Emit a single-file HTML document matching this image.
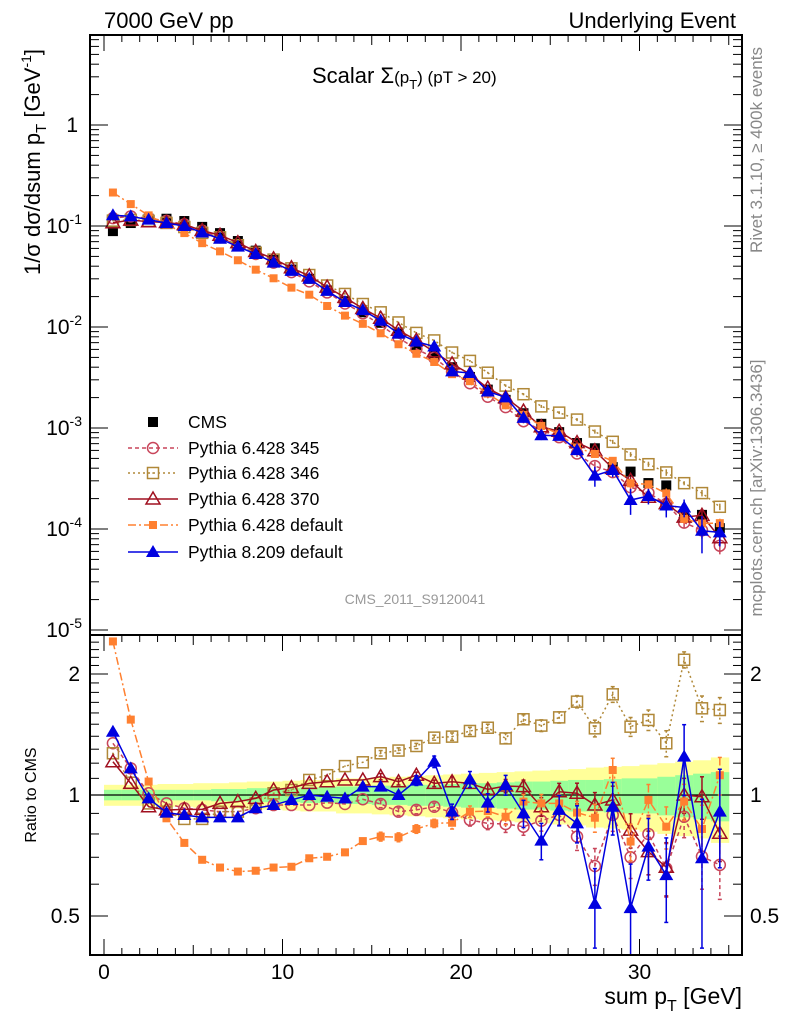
<!DOCTYPE html>
<html><head><meta charset="utf-8">
<style>
body{margin:0;background:#fff;}
svg{display:block;font-family:"Liberation Sans",sans-serif;}
</style></head>
<body>
<svg id="c" width="786" height="1024" xmlns="http://www.w3.org/2000/svg">
<text x="104" y="28" font-size="22">7000 GeV pp</text>
<text x="736" y="28" font-size="22" text-anchor="end">Underlying Event</text>
<text x="312" y="83" font-size="22">Scalar Σ<tspan font-size="17">(p</tspan><tspan font-size="13" dy="6">T</tspan><tspan font-size="17" dy="-6">) (pT &gt; 20)</tspan></text>
<text x="415" y="604" font-size="14" fill="#999" text-anchor="middle">CMS_2011_S9120041</text>
<text transform="translate(40,162) rotate(-90)" font-size="22" text-anchor="middle">1/σ dσ/dsum p<tspan font-size="15" dy="6">T</tspan><tspan dy="-6"> [GeV</tspan><tspan font-size="14" dy="-9">-1</tspan><tspan dy="9">]</tspan></text>
<text transform="translate(36,795) rotate(-90)" font-size="16" text-anchor="middle">Ratio to CMS</text>
<text x="742" y="1004" font-size="23" text-anchor="end">sum p<tspan font-size="16" dy="7">T</tspan><tspan dy="-7"> [GeV]</tspan></text>
<text transform="translate(762,150) rotate(-90)" font-size="17" fill="#888" text-anchor="middle">Rivet 3.1.10, ≥ 400k events</text>
<text transform="translate(762,488) rotate(-90)" font-size="17" fill="#888" text-anchor="middle">mcplots.cern.ch [arXiv:1306.3436]</text>
<g id="band"></g><g id="marks"></g><g id="axes"></g><g id="legend"></g>
</svg>
<script>
const xCenters=[0.5,1.5,2.5,3.5,4.5,5.5,6.5,7.5,8.5,9.5,10.5,11.5,12.5,13.5,14.5,15.5,16.5,17.5,18.5,19.5,20.5,21.5,22.5,23.5,24.5,25.5,26.5,27.5,28.5,29.5,30.5,31.5,32.5,33.5,34.5];
const cmsValues=[0.089,0.107,0.118,0.118,0.112,0.098,0.085,0.071,0.057,0.046,0.037,0.030,0.023,0.018,0.014,0.011,0.0086,0.0066,0.0053,0.0040,0.0032,0.0024,0.0019,0.0014,0.0011,0.00091,0.00071,0.00063,0.00041,0.00037,0.000285,0.00027,0.000131,0.000138,0.000102];
const ratio345=[1.345,1.165,1.01,0.953,0.927,0.918,0.909,0.909,0.927,0.944,0.944,0.944,0.957,0.95,0.976,0.95,0.909,0.918,0.935,0.904,0.867,0.85,0.847,0.834,0.863,0.892,0.788,0.666,0.892,0.70,0.80,0.657,0.883,0.703,0.67];
const ratio346=[1.27,1.073,0.953,0.909,0.872,0.872,0.909,0.909,0.953,1.01,1.029,1.09,1.12,1.18,1.206,1.27,1.29,1.324,1.389,1.397,1.443,1.47,1.383,1.543,1.488,1.56,1.707,1.465,1.78,1.479,1.537,1.345,2.17,1.643,1.627];
const ratio370=[1.21,1.069,0.935,0.918,0.921,0.921,0.953,0.963,0.981,1.029,1.043,1.069,1.079,1.09,1.09,1.111,1.079,1.12,1.069,1.079,1.069,1.033,1.053,1.049,0.935,1.019,1.01,0.944,0.972,0.818,0.723,0.661,1.0,0.99,0.803];
const ratioDef6=[2.41,1.54,1.08,0.875,0.76,0.69,0.66,0.645,0.648,0.66,0.663,0.696,0.702,0.72,0.768,0.788,0.785,0.823,0.85,0.853,0.909,0.912,0.883,0.963,0.953,0.953,0.904,0.878,1.154,0.766,0.972,0.834,0.963,0.823,1.12];
const ratioP8=[1.437,1.165,0.981,0.904,0.892,0.88,0.88,0.88,0.927,0.944,0.972,1.0,0.99,0.981,1.049,1.049,1.0,1.086,1.21,0.909,1.094,0.957,1.059,0.9,0.77,0.918,0.85,0.536,0.935,0.523,0.744,0.632,1.246,0.696,0.909];
const errP8=[0.01,0.01,0.01,0.01,0.01,0.01,0.01,0.01,0.01,0.01,0.01,0.01,0.01,0.01,0.02,0.02,0.02,0.03,0.04,0.04,0.05,0.05,0.06,0.07,0.08,0.08,0.09,0.12,0.14,0.15,0.13,0.15,0.25,0.28,0.25];
const errMC=[0.01,0.01,0.01,0.01,0.01,0.01,0.01,0.01,0.01,0.01,0.01,0.01,0.01,0.01,0.01,0.02,0.02,0.02,0.02,0.03,0.03,0.03,0.04,0.04,0.05,0.05,0.06,0.07,0.08,0.08,0.09,0.10,0.10,0.12,0.12];
const bandInner=[0.03,0.03,0.03,0.03,0.03,0.03,0.035,0.035,0.04,0.04,0.04,0.045,0.045,0.05,0.05,0.055,0.055,0.06,0.06,0.065,0.07,0.07,0.075,0.08,0.08,0.085,0.09,0.09,0.095,0.10,0.10,0.11,0.12,0.13,0.14];
const bandOuter=[0.06,0.06,0.06,0.065,0.065,0.07,0.07,0.075,0.08,0.08,0.085,0.09,0.09,0.10,0.10,0.105,0.11,0.115,0.12,0.125,0.13,0.135,0.14,0.145,0.15,0.155,0.16,0.17,0.175,0.18,0.19,0.20,0.21,0.22,0.24];
const xTicks=[0,10,20,30];
const ratioTicks=[2,1,0.5];

const NS="http://www.w3.org/2000/svg";
const L=90,R=742,T=35,MB=635,B=955;
const sx=v=>104+17.85*v;
const sy=v=>125-101*Math.log10(v);
const sr=v=>795-402*Math.log10(v);
function el(tag,a,p){const e=document.createElementNS(NS,tag);for(const k in a)e.setAttribute(k,a[k]);p.appendChild(e);return e;}
const band=document.getElementById('band'),marks=document.getElementById('marks'),axes=document.getElementById('axes'),leg=document.getElementById('legend');

xCenters.forEach((x,i)=>{
  let y1=sr(1+bandOuter[i]),y2=sr(1-bandOuter[i]);
  let r=el('rect',{x:sx(x-0.5),y:y1,width:17.85+0.5,height:y2-y1,fill:'#ffff99'},band);
  
  
  y1=sr(1+bandInner[i]);y2=sr(1-bandInner[i]);
  r=el('rect',{x:sx(x-0.5),y:y1,width:17.85+0.5,height:y2-y1,fill:'#99ff99'},band);
  
  
});
let ln=el('line',{x1:L,x2:R,y1:sr(1),y2:sr(1),stroke:'#000','stroke-width':1.3},band);



function marker(kind,color,cx,cy,p){
  let m;
  if(kind==='sqfill'){m=el('rect',{x:cx-5,y:cy-5,width:10,height:10,fill:color},p);}
  else if(kind==='sqsmall'){m=el('rect',{x:cx-4,y:cy-4,width:8,height:8,fill:color},p);}
  else if(kind==='circ'){m=el('circle',{cx:cx,cy:cy,r:5.5,fill:'none',stroke:color,'stroke-width':1.5},p);}
  else if(kind==='sqopen'){m=el('rect',{x:cx-5.5,y:cy-5.5,width:11,height:11,fill:'none',stroke:color,'stroke-width':1.5},p);el('circle',{cx:cx,cy:cy,r:0.8,fill:color},p);}
  else if(kind==='triopen'){m=el('polygon',{points:`${cx},${cy-7} ${cx-7},${cy+5} ${cx+7},${cy+5}`,fill:'none',stroke:color,'stroke-width':1.5},p);}
  else if(kind==='trifill'){m=el('polygon',{points:`${cx},${cy-7} ${cx-7},${cy+5} ${cx+7},${cy+5}`,fill:color},p);}
  return m;
}
const series=[
 {name:'pythia-6428-345',r:ratio345,c:'#c8455a',dash:'4,3',m:'circ',err:errMC},
 {name:'pythia-6428-346',r:ratio346,c:'#b08838',dash:'2,3',m:'sqopen',err:errMC},
 {name:'pythia-6428-370',r:ratio370,c:'#a01020',dash:'',m:'triopen',err:errMC},
 {name:'pythia-6428-default',r:ratioDef6,c:'#ff8030',dash:'8,3,2,3',m:'sqsmall',err:errMC},
 {name:'pythia-8209-default',r:ratioP8,c:'#0000e0',dash:'',m:'trifill',err:errP8}
];
const defs=el('defs',{},document.getElementById('c'));
const cp=el('clipPath',{id:'mainclip'},defs);el('rect',{x:L,y:T,width:R-L,height:MB-T},cp);
const cp2=el('clipPath',{id:'ratclip'},defs);el('rect',{x:L,y:MB,width:R-L,height:B-MB},cp2);
const gm=el('g',{'clip-path':'url(#mainclip)'},marks);
const gr=el('g',{'clip-path':'url(#ratclip)'},marks);
cmsValues.forEach((v,i)=>{
  const m=marker('sqfill','#000',sx(xCenters[i]),sy(v),gm);
  
  
});
series.forEach(s=>{
  const g1=el('g',{},gm),g2=el('g',{},gr);
  
  
  
  
  const pm=xCenters.map((x,i)=>sx(x)+','+sy(cmsValues[i]*s.r[i])).join(' ');
  const pr=xCenters.map((x,i)=>sx(x)+','+sr(s.r[i])).join(' ');
  el('polyline',{points:pm,fill:'none',stroke:s.c,'stroke-width':1.5,'stroke-dasharray':s.dash},g1);
  el('polyline',{points:pr,fill:'none',stroke:s.c,'stroke-width':1.5,'stroke-dasharray':s.dash},g2);
  xCenters.forEach((x,i)=>{
    const v=s.r[i],e=s.err[i],cx=sx(x);
    if(e>0.015){
      el('line',{x1:cx,x2:cx,y1:sr(v+e),y2:sr(Math.max(v-e,0.05)),stroke:s.c,'stroke-width':1.5,'stroke-dasharray':s.dash},g2);
      el('line',{x1:cx-2,x2:cx+2,y1:sr(v+e),y2:sr(v+e),stroke:s.c,'stroke-width':1.5},g2);
      el('line',{x1:cx-2,x2:cx+2,y1:sr(v-e),y2:sr(v-e),stroke:s.c,'stroke-width':1.5},g2);
      const mv=cmsValues[i]*v,me=cmsValues[i]*e;
      el('line',{x1:cx,x2:cx,y1:sy(mv+me),y2:sy(Math.max(mv-me,mv*0.1)),stroke:s.c,'stroke-width':1.5},g1);
    }
    let m=marker(s.m,s.c,cx,sy(cmsValues[i]*v),g1);
    
    
    m=marker(s.m,s.c,cx,sr(v),g2);
    
    
  });
});

[[T,MB],[MB,B]].forEach(([a,b],k)=>{
  const f=el('rect',{x:L,y:a,width:R-L,height:b-a,fill:'none',stroke:'#000','stroke-width':2},axes);
  
  
});
for(let v=0;v<=35;v++){
  const big=v%10===0,mid=v%5===0;
  const h=big?16:(mid?10:7);
  [T,MB].forEach(y0=>el('line',{x1:sx(v),x2:sx(v),y1:y0,y2:y0+h,stroke:'#000','stroke-width':1},axes));
  el('line',{x1:sx(v),x2:sx(v),y1:B,y2:B-h,stroke:'#000','stroke-width':1},axes);
}
xTicks.forEach(v=>{
  const t=el('text',{x:sx(v),y:979,'font-size':21,'text-anchor':'middle'},axes);
  t.textContent=v;
  
  
});
for(let d=-5;d<=0;d++){
  for(let k=1;k<10;k++){
    const v=k*Math.pow(10,d),y=sy(v);
    if(y<T||y>MB)continue;
    const h=k===1?18:9;
    el('line',{x1:L,x2:L+h,y1:y,y2:y,stroke:'#000','stroke-width':1},axes);
    el('line',{x1:R,x2:R-h,y1:y,y2:y,stroke:'#000','stroke-width':1},axes);
  }
}
const decLabels=[[-5,'10','-5'],[-4,'10','-4'],[-3,'10','-3'],[-2,'10','-2'],[-1,'10','-1']];
decLabels.forEach(([d,b,e])=>{
  const t=el('text',{x:82,y:sy(Math.pow(10,d))+7,'font-size':21,'text-anchor':'end'},axes);
  t.innerHTML=b+'<tspan font-size="14" dy="-9">'+e+'</tspan>';
  
  
});
let t1=el('text',{x:78,y:sy(1)+7,'font-size':21,'text-anchor':'end'},axes);t1.textContent='1';


[0.4,0.5,0.6,0.7,0.8,0.9,1,1.1,1.2,1.3,1.4,1.5,1.6,1.7,1.8,1.9,2,2.1,2.2,2.3,2.4].forEach(v=>{
  const y=sr(v);if(y<MB||y>B)return;
  const h=(v===0.5||v===1||v===2)?18:9;
  el('line',{x1:L,x2:L+h,y1:y,y2:y,stroke:'#000','stroke-width':1},axes);
  el('line',{x1:R,x2:R-h,y1:y,y2:y,stroke:'#000','stroke-width':1},axes);
});
ratioTicks.forEach(v=>{
  let t=el('text',{x:80,y:sr(v)+7,'font-size':21,'text-anchor':'end'},axes);t.textContent=v;
  
  
  t=el('text',{x:750,y:sr(v)+7,'font-size':21},axes);t.textContent=v;
  
  
});
const legRows=[
 {label:'CMS',m:'sqfill',c:'#000',dash:null},
 {label:'Pythia 6.428 345',m:'circ',c:'#c8455a',dash:'4,3'},
 {label:'Pythia 6.428 346',m:'sqopen',c:'#b08838',dash:'2,3'},
 {label:'Pythia 6.428 370',m:'triopen',c:'#a01020',dash:''},
 {label:'Pythia 6.428 default',m:'sqsmall',c:'#ff8030',dash:'8,3,2,3'},
 {label:'Pythia 8.209 default',m:'trifill',c:'#0000e0',dash:''}
];
const legY=[422,448,473,499,525,552];
legRows.forEach((r,i)=>{
  const g=el('g',{},leg);
  
  
  const y=legY[i];
  if(r.dash!==null) el('line',{x1:128,x2:178,y1:y,y2:y,stroke:r.c,'stroke-width':1.5,'stroke-dasharray':r.dash},g);
  marker(r.m,r.c,153,y,g);
  const t=el('text',{x:188,y:y+6,'font-size':17.5},g);t.textContent=r.label;
});
</script>
</body></html>
